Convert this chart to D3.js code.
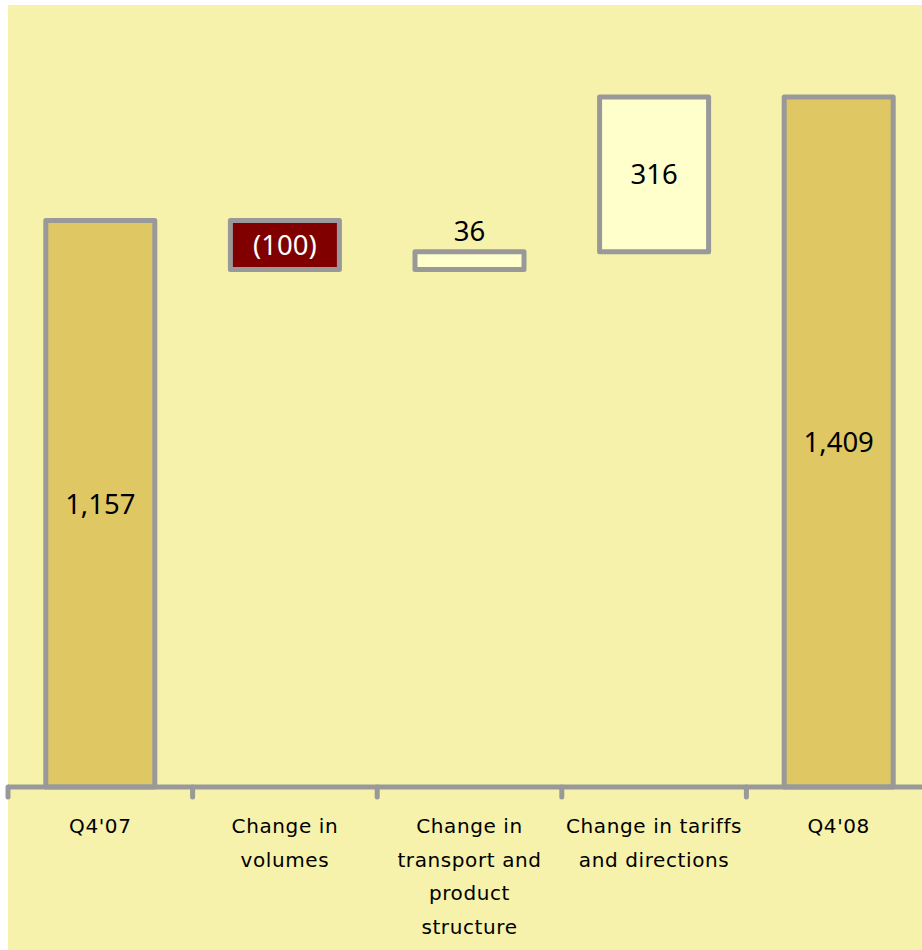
<!DOCTYPE html>
<html>
<head>
<meta charset="utf-8">
<script src="https://cdn.jsdelivr.net/npm/d3@7"></script>
<style>
  body { margin: 0; background: #fff; }
  svg { display: block; }
</style>
</head>
<body>
<div id="chart"></div>
<script>
const categories = ['Q4\'07', 'Change in volumes', 'Change in transport and product structure', 'Change in tariffs and directions', 'Q4\'08'];
const catLines = [['Q4\'07'], ['Change in', 'volumes'], ['Change in', 'transport and', 'product', 'structure'], ['Change in tariffs', 'and directions'], ['Q4\'08']];
const values = [1157, -100, 36, 316, 1409];
const kinds = ['total', 'delta', 'delta', 'delta', 'total'];
const valueLabels = ['1,157', '(100)', '36', '316', '1,409'];

const width = 922;
const height = 950;

// build the waterfall steps
let running = 0;
const steps = values.map((v, i) => {
  let lo, hi;
  if (kinds[i] === 'total') {
    lo = 0; hi = v; running = v;
  } else {
    const start = running;
    running += v;
    lo = Math.min(start, running); hi = Math.max(start, running);
  }
  return { cat: categories[i], v, lo, hi, kind: kinds[i], label: valueLabels[i], lines: catLines[i] };
});

const svg = d3.select('#chart').append('svg')
  .attr('width', width)
  .attr('height', height);

svg.append('rect')
  .attr('x', 8).attr('y', 5)
  .attr('width', width - 8).attr('height', height - 5)
  .attr('fill', '#f6f1ab');

const x = d3.scaleBand()
  .domain(categories)
  .range([8, 931])
  .paddingInner(0)
  .paddingOuter(0);

const y = d3.scaleLinear()
  .domain([0, 1409])
  .range([787, 97]);

const barW = 109;

const fillFor = (d) => {
  if (d.kind === 'total') return '#dfc764';
  return d.v < 0 ? '#800000' : '#ffffcc';
};

svg.selectAll('.bar')
  .data(steps)
  .enter()
  .append('rect')
  .attr('class', 'bar')
  .attr('x', d => x(d.cat) + x.bandwidth() / 2 - barW / 2)
  .attr('y', d => y(d.hi))
  .attr('width', barW)
  .attr('height', d => y(d.lo) - y(d.hi))
  .attr('fill', fillFor)
  .attr('stroke', '#999999')
  .attr('stroke-width', 5)
  .attr('stroke-linejoin', 'round');

// axis line and ticks
const axisY = 787;
svg.append('line')
  .attr('x1', 8).attr('x2', 931)
  .attr('y1', axisY).attr('y2', axisY)
  .attr('stroke', '#999999')
  .attr('stroke-width', 5);

const tickXs = categories.map(c => x(c)).concat([x.range()[1]]);
svg.selectAll('.tick')
  .data(tickXs)
  .enter()
  .append('line')
  .attr('class', 'tick')
  .attr('x1', d => d).attr('x2', d => d)
  .attr('y1', axisY).attr('y2', axisY + 10)
  .attr('stroke', '#999999')
  .attr('stroke-width', 5)
  .attr('stroke-linecap', 'round');

// value labels
svg.selectAll('.val')
  .data(steps)
  .enter()
  .append('text')
  .attr('class', 'val')
  .attr('x', d => x(d.cat) + x.bandwidth() / 2)
  .attr('y', (d) => {
    const h = y(d.lo) - y(d.hi);
    if (h < 30) return y(d.hi) - 11;
    return (y(d.lo) + y(d.hi)) / 2 + 10;
  })
  .attr('text-anchor', 'middle')
  .attr('font-family', 'Noto Sans, sans-serif')
  .attr('font-size', 27.5)
  .attr('fill', d => (d.kind === 'delta' && d.v < 0 ? '#ffffff' : '#000000'))
  .text(d => d.label);

// category labels
const catG = svg.selectAll('.cat')
  .data(steps)
  .enter()
  .append('text')
  .attr('class', 'cat')
  .attr('x', d => x(d.cat) + x.bandwidth() / 2)
  .attr('y', 833)
  .attr('text-anchor', 'middle')
  .attr('font-family', 'DejaVu Sans, sans-serif')
  .attr('font-size', 20)
  .attr('letter-spacing', 0.6)
  .attr('fill', '#000000');

catG.selectAll('tspan')
  .data(d => d.lines.map(l => ({ l, cx: x(d.cat) + x.bandwidth() / 2 })))
  .enter()
  .append('tspan')
  .attr('x', d => d.cx)
  .attr('dy', (d, i) => (i === 0 ? 0 : 33.5))
  .text(d => d.l);
</script>
</body>
</html>
